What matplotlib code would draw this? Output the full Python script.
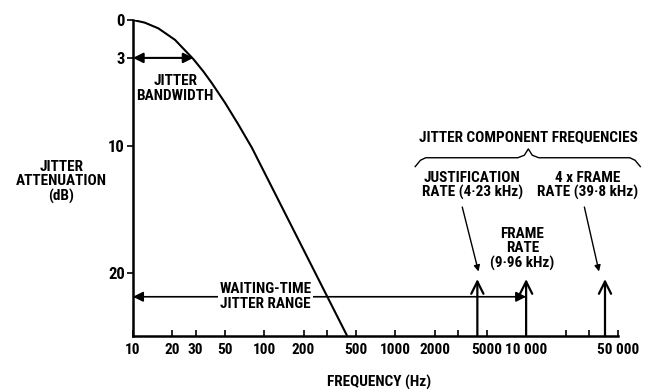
import numpy as np
import matplotlib
matplotlib.use("Agg")
import matplotlib.pyplot as plt

# narrow bold face, closest to the condensed lettering of the original
plt.rcParams["font.family"] = ["Roboto Condensed", "Liberation Sans Narrow", "DejaVu Sans"]
plt.rcParams["font.stretch"] = "condensed"
plt.rcParams["font.weight"] = "bold"
plt.rcParams["font.size"] = 11

# jitter transfer curve
freq_hz = [10, 12.3, 15.6, 20.9, 28.9, 34.4, 39.9, 50.4, 63.6, 80.6, 430]
atten_db = [0, 0.21, 0.66, 1.57, 3.1, 4.07, 4.99, 6.56, 8.27, 10.1, 25.0]

# jitter components
comp_freq = [4230, 9960, 39800]
comp_top_db = 20.5

bw_freq = 28.9          # 3 dB jitter bandwidth
bw_db = 3
wait_db = 21.9          # waiting-time jitter range arrow level

xticks = [10, 20, 30, 50, 100, 200, 300, 500, 1000, 2000, 3000, 5000,
          10000, 20000, 30000, 50000]
xtick_labels = ["10", "20", "30", "50", "100", "200", "", "500", "1000", "2000",
                "", "5000", "10 000", "", "", "50 000"]
yticks = [0, 3, 10, 20]

fig = plt.figure(figsize=(6.51, 3.92), dpi=100)
ax = fig.add_axes([0.2043, 0.143, 0.745, 0.806])

ax.plot(freq_hz, atten_db, color="black", lw=1.5, solid_capstyle="butt")

ax.set_xscale("log")
ax.set_xlim(10, 50000)
ax.set_ylim(25, 0)
ax.set_xticks(xticks)
ax.set_xticklabels(xtick_labels)
ax.xaxis.set_minor_locator(matplotlib.ticker.NullLocator())
ax.set_yticks(yticks)
ax.tick_params(axis="x", direction="in", length=4, width=1.2, pad=5, labelsize=11)
ax.tick_params(axis="y", direction="out", length=4, width=1.2, pad=2, labelsize=12)
for s in ["top", "right"]:
    ax.spines[s].set_visible(False)
for s in ["left", "bottom"]:
    ax.spines[s].set_linewidth(1.8)

# jitter bandwidth arrow
ax.annotate("", xy=(bw_freq, bw_db), xytext=(10, bw_db),
            arrowprops=dict(arrowstyle="<|-|>", color="black", lw=1.5,
                            mutation_scale=15, shrinkA=0, shrinkB=0))
ax.text(21, 5.4, "JITTER\nBANDWIDTH", ha="center", va="center",
        linespacing=1.05)

# waiting-time jitter range
ax.annotate("", xy=(comp_freq[1], wait_db), xytext=(10, wait_db),
            arrowprops=dict(arrowstyle="<|-|>", color="black", lw=1.2,
                            mutation_scale=15, shrinkA=0, shrinkB=0))
ax.text(102, wait_db, "WAITING-TIME\nJITTER RANGE", ha="center", va="center",
        linespacing=1.05,
        bbox=dict(facecolor="white", edgecolor="none", pad=1))

# component frequency arrows
for f in comp_freq:
    ax.annotate("", xy=(f, comp_top_db), xytext=(f, 25),
                arrowprops=dict(arrowstyle="->", color="black", lw=1.6,
                                mutation_scale=22, shrinkA=0, shrinkB=0),
                annotation_clip=False)

ax.text(3870, 13.1, "JUSTIFICATION\nRATE (4·23 kHz)", ha="center",
        va="center", linespacing=1.05)
ax.text(29200, 13.1, "4 x FRAME\nRATE (39·8 kHz)", ha="center",
        va="center", linespacing=1.05, clip_on=False)
ax.text(9330, 18.1, "FRAME\nRATE\n(9·96 kHz)", ha="center", va="center",
        linespacing=1.05)

for src, dst in [((3245, 14.8), (comp_freq[0] * 1.02, 19.9)),
                 ((27700, 14.8), (comp_freq[2] * 0.9, 19.9))]:
    ax.annotate("", xy=dst, xytext=src,
                arrowprops=dict(arrowstyle="-|>", color="black", lw=1.0,
                                mutation_scale=9, shrinkA=0, shrinkB=0))

ax.text(10350, 9.3, "JITTER COMPONENT FREQUENCIES", ha="center",
        va="center", clip_on=False)

# curly brace over the component labels
x0, x1, xm = np.log10(1420), np.log10(74000), np.log10(10350)
yb, ytip, yend = 10.9, 10.2, 11.6
left = np.concatenate([
    [x0, x0 + 0.04], np.linspace(x0 + 0.08, xm - 0.08, 10),
    [xm - 0.03, xm]])
left_y = np.concatenate([[yend, yb + 0.2], np.full(10, yb), [yb - 0.2, ytip]])
right = np.concatenate([[xm, xm + 0.03], np.linspace(xm + 0.08, x1 - 0.08, 10),
                        [x1 - 0.04, x1]])
right_y = np.concatenate([[ytip, yb - 0.2], np.full(10, yb), [yb + 0.2, yend]])
bx = np.concatenate([left, right[1:]])
by = np.concatenate([left_y, right_y[1:]])
ax.plot(10 ** bx, by, color="black", lw=1.0, clip_on=False)

fig.text(0.094, 0.536, "JITTER\nATTENUATION\n(dB)", ha="center", va="center",
         linespacing=1.05)
fig.text(0.583, 0.023, "FREQUENCY (Hz)", ha="center", va="center")

fig.savefig("out.png", dpi=100)
